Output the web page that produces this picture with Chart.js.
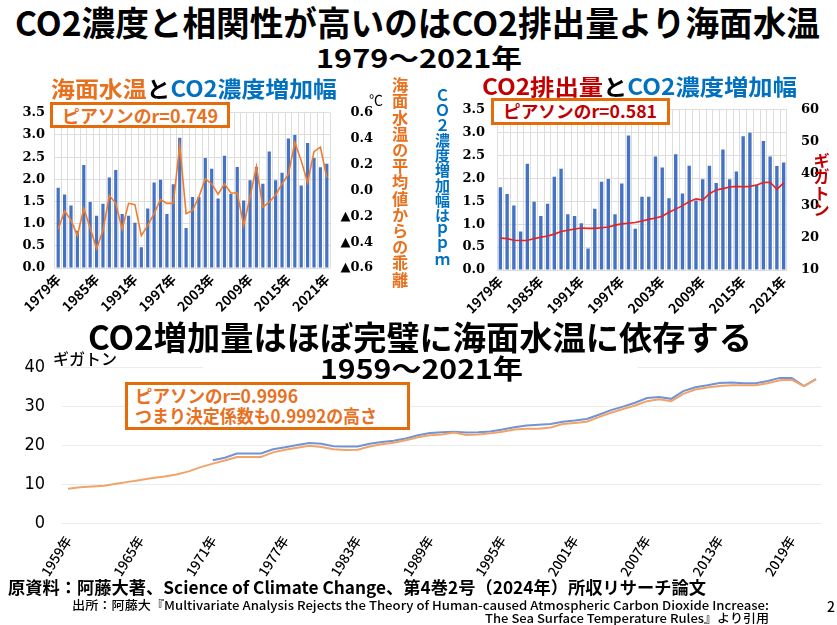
<!DOCTYPE html>
<html lang="ja">
<head>
<meta charset="utf-8">
<script src="https://cdn.jsdelivr.net/npm/chart.js@4.4.1/dist/chart.umd.min.js"></script>
<style>
  html, body { margin: 0; padding: 0; background: #fff; }
  body { width: 837px; height: 625px; position: relative; overflow: hidden; font-family: "Noto Sans CJK JP", sans-serif; }
  canvas { position: absolute; }
  .t { position: absolute; white-space: nowrap; line-height: 1; font-weight: 700; transform-origin: 0 0; }
  .v { position: absolute; writing-mode: vertical-rl; text-orientation: upright; line-height: 1; font-weight: 700; white-space: nowrap; }
  .box { position: absolute; border: 3px solid #E46C0A; background: #fff; box-sizing: border-box; }
  .org { color: #E8711F; }
  .blu { color: #0070C0; }
  .red { color: #C00000; }
</style>
</head>
<body>
<canvas id="chartSst" width="400" height="230" style="left:0;top:95px;width:400px;height:230px"></canvas>
<canvas id="chartEmit" width="417" height="235" style="left:420px;top:90px;width:417px;height:235px"></canvas>
<canvas id="chartLong" width="837" height="245" style="left:0;top:340px;width:837px;height:245px"></canvas>

<div class="t" data-w="805" style="left:15px;top:5px;font-size:34px;">CO2濃度と相関性が高いのはCO2排出量より海面水温</div>
<div class="t" data-w="206" style="left:316px;top:44px;font-size:26px;">1979～2021年</div>

<div class="t" data-w="286" style="left:51px;top:76px;font-size:22px;"><span class="org">海面水温</span>と<span class="blu">CO2濃度増加幅</span></div>
<div class="t" data-w="315" style="left:482px;top:74px;font-size:22px;"><span class="red">CO2排出量</span>と<span class="blu">CO2濃度増加幅</span></div>

<div class="box" style="left:50px;top:102px;width:180px;height:26px;"></div>
<div class="t org" data-w="156" style="left:62px;top:106px;font-size:18px;">ピアソンのr=0.749</div>
<div class="box" style="left:491px;top:98px;width:179px;height:27px;"></div>
<div class="t red" data-w="154" style="left:503px;top:102px;font-size:17px;">ピアソンのr=0.581</div>

<div class="t" style="left:369px;top:92px;font-size:14px;font-weight:400;">℃</div>
<div class="v org" style="left:392px;top:77px;font-size:16.2px;">海面水温の平均値からの乖離</div>
<div class="v blu" style="left:435px;top:88px;font-size:15px;">ＣＯ２濃度増加幅はｐｐｍ</div>
<div class="v red" style="left:813px;top:152px;font-size:16.5px;">ギガトン</div>

<div class="t" data-w="664" style="left:88px;top:320px;font-size:33px;">CO2増加量はほぼ完璧に海面水温に依存する</div>
<div style="position:absolute;left:203px;top:354px;width:435px;height:36px;background:#fff;"></div>
<div class="t" data-w="203" style="left:320px;top:354px;font-size:27px;">1959～2021年</div>
<div class="t" data-w="64" style="left:53px;top:350px;font-size:16px;font-weight:500;">ギガトン</div>

<div class="box" style="left:125px;top:382px;width:285px;height:48px;"></div>
<div class="t org" data-w="163" style="left:135px;top:386px;font-size:18px;">ピアソンのr=0.9996</div>
<div class="t org" data-w="242" style="left:135px;top:406px;font-size:18px;">つまり決定係数も0.9992の高さ</div>

<div class="t" data-w="698" style="left:8px;top:578px;font-size:17px;">原資料：阿藤大著、Science of Climate Change、第4巻2号（2024年）所収リサーチ論文</div>
<div class="t" data-w="697" style="left:72px;top:599px;font-size:12px;font-weight:500;">出所：阿藤大『Multivariate Analysis Rejects the Theory of Human-caused Atmospheric Carbon Dioxide Increase:</div>
<div class="t" data-w="284" style="left:485px;top:612px;font-size:12px;font-weight:500;">The Sea Surface Temperature Rules』より引用</div>
<div class="t" style="left:827px;top:599px;font-size:14px;font-weight:500;">2</div>

<script>
// 1979-2021 (top charts)
const yearsTop = [];
for (let y = 1979; y <= 2021; y++) yearsTop.push(y + "年");

// CO2 concentration growth, ppm per year
const co2Growth = [
  1.81, 1.66, 1.41, 0.84, 2.32, 1.49, 1.18, 1.45, 2.04, 2.21,
  1.22, 1.18, 1.02, 0.47, 1.34, 1.93, 1.99, 1.22, 1.89, 2.94,
  0.90, 1.60, 1.60, 2.48, 2.24, 1.57, 2.53, 1.67, 2.28, 1.52,
  1.98, 2.28, 1.90, 2.63, 1.98, 2.15, 2.92, 3.00, 1.86, 2.82,
  2.48, 2.27, 2.35
];

// sea surface temperature anomaly, degC
const sstAnomaly = [
  -0.30, -0.16, -0.23, -0.35, -0.14, -0.29, -0.45, -0.31, -0.04, -0.10,
  -0.30, -0.10, -0.11, -0.35, -0.27, -0.18, -0.07, -0.10, -0.10, 0.35,
  -0.18, -0.155, -0.05, 0.09, 0.05, -0.03, 0.05, -0.02, -0.02, -0.27,
  -0.05, 0.185, -0.13, -0.09, -0.035, 0.05, 0.125, 0.37, 0.23, 0.06,
  0.30, 0.335, 0.10
];

// CO2 emissions, gigatons
const co2Emission = [
  20.0, 19.8, 19.3, 19.2, 19.2, 19.8, 20.2, 20.6, 21.2, 22.0,
  22.4, 22.8, 23.1, 23.0, 23.0, 23.2, 23.4, 24.0, 24.4, 24.6,
  24.8, 25.3, 25.8, 26.2, 26.8, 28.0, 29.0, 30.1, 31.3, 32.2,
  31.8, 33.8, 35.0, 35.4, 35.9, 36.1, 36.0, 36.1, 36.5, 37.3,
  37.4, 35.2, 37.2
];

// 1959-2021 (bottom chart)
const yearsLong = [];
for (let y = 1959; y <= 2021; y++) yearsLong.push(y + "年");

const longOrange = [
  8.8, 9.2, 9.4, 9.6, 10.1, 10.6, 11.1, 11.6, 12.0, 12.5,
  13.3, 14.4, 15.3, 16.1, 17.0, 17.0, 17.0, 18.2, 18.9, 19.4,
  19.9, 19.6, 19.0, 18.8, 18.9, 19.7, 20.3, 20.7, 21.3, 22.1,
  22.6, 22.8, 23.3, 22.7, 22.8, 23.1, 23.5, 24.1, 24.3, 24.3,
  24.6, 25.5, 25.8, 26.1, 27.3, 28.4, 29.4, 30.3, 31.4, 31.9,
  31.4, 33.3, 34.4, 34.9, 35.3, 35.5, 35.5, 35.5, 36.0, 36.8,
  36.9, 35.3, 37.1
];

const longBlue = [
  null, null, null, null, null, null, null, null, null, null,
  null, null, 16.2, 16.8, 17.9, 17.9, 17.9, 19.0, 19.5, 20.1,
  20.6, 20.4, 19.8, 19.7, 19.7, 20.4, 20.9, 21.2, 21.8, 22.6,
  23.2, 23.4, 23.5, 23.3, 23.4, 23.6, 24.1, 24.7, 25.1, 25.3,
  25.5, 26.1, 26.4, 26.8, 27.9, 29.1, 30.0, 31.0, 32.2, 32.5,
  32.0, 34.0, 35.0, 35.5, 36.1, 36.2, 36.0, 36.0, 36.6, 37.4,
  37.4, 35.3, 37.1
];

Chart.defaults.font.family = '"Noto Sans CJK JP", sans-serif';
Chart.defaults.color = "#000";
Chart.defaults.animation = false;

const numFont = { family: '"DejaVu Serif", serif', size: 13, weight: "bold" };
const yearFont = { family: '"Noto Sans CJK JP", sans-serif', size: 13.5, weight: "bold" };
const gridColor = "#dddddd";

function everySixth(val, i) {
  return i % 6 === 0 ? this.getLabelForValue(val) : "";
}

function growthAxis(width, pad) {
  return {
    position: "left",
    min: 0, max: 3.5,
    ticks: { stepSize: 0.5, font: numFont, padding: pad, callback: (v) => v.toFixed(1) },
    grid: { color: gridColor, drawTicks: false },
    border: { display: false },
    afterFit: (s) => { s.width = width; }
  };
}

function yearAxis(height) {
  return {
    ticks: { autoSkip: false, maxRotation: 45, minRotation: 45, font: yearFont, padding: 3, callback: everySixth },
    grid: { color: gridColor, drawTicks: false },
    border: { display: false },
    afterFit: (s) => { s.height = height; }
  };
}

new Chart(document.getElementById("chartSst"), {
  type: "bar",
  data: {
    labels: yearsTop,
    datasets: [
      { type: "line", data: sstAnomaly, yAxisID: "y1", borderColor: "#ED7D31", borderWidth: 1.6, pointRadius: 0, tension: 0, order: 0 },
      { data: co2Growth, yAxisID: "y", backgroundColor: "#4472C4", barPercentage: 0.5, categoryPercentage: 1, order: 1 }
    ]
  },
  options: {
    responsive: false,
    layout: { padding: { top: 13, right: 27, left: 0, bottom: 0 } },
    plugins: { legend: { display: false }, tooltip: { enabled: false } },
    scales: {
      x: yearAxis(57),
      y: growthAxis(55, 10),
      y1: {
        position: "right",
        min: -0.6, max: 0.6,
        ticks: {
          stepSize: 0.2, font: numFont, padding: 7, crossAlign: "far",
          callback: (v) => Math.abs(v) < 1e-9 ? "0.0" : (v < 0 ? "▲" + Math.abs(v).toFixed(1) : v.toFixed(1))
        },
        grid: { display: false },
        border: { display: false },
        afterFit: (s) => { s.width = 43; }
      }
    }
  }
});

new Chart(document.getElementById("chartEmit"), {
  type: "bar",
  data: {
    labels: yearsTop,
    datasets: [
      { type: "line", data: co2Emission, yAxisID: "y1", borderColor: "#E8201E", borderWidth: 1.6, pointRadius: 0, tension: 0, order: 0 },
      { data: co2Growth, yAxisID: "y", backgroundColor: "#4472C4", barPercentage: 0.5, categoryPercentage: 1, order: 1 }
    ]
  },
  options: {
    responsive: false,
    layout: { padding: { top: 12, right: 0, left: 0, bottom: 0 } },
    plugins: { legend: { display: false }, tooltip: { enabled: false } },
    scales: {
      x: yearAxis(55),
      y: growthAxis(77, 12),
      y1: {
        position: "right",
        min: 10, max: 60,
        ticks: { stepSize: 10, font: numFont, padding: 6 },
        grid: { display: false },
        border: { display: false },
        afterFit: (s) => { s.width = 50; }
      }
    }
  }
});

new Chart(document.getElementById("chartLong"), {
  type: "line",
  data: {
    labels: yearsLong,
    datasets: [
      { data: longOrange, borderColor: "#F2A36A", borderWidth: 2, pointRadius: 0, tension: 0, order: 0 },
      { data: longBlue, borderColor: "#7294D4", borderWidth: 2, pointRadius: 0, tension: 0, order: 1 }
    ]
  },
  options: {
    responsive: false,
    layout: { padding: { top: 21, right: 15, left: 0, bottom: 0 } },
    plugins: { legend: { display: false }, tooltip: { enabled: false } },
    scales: {
      x: {
        offset: true,
        ticks: {
          autoSkip: false, maxRotation: 58, minRotation: 58, padding: 2,
          font: { family: '"Noto Sans CJK JP", sans-serif', size: 13.5, weight: 500 },
          callback: everySixth
        },
        grid: { display: false },
        border: { display: false },
        afterFit: (s) => { s.height = 62; }
      },
      y: {
        min: 0, max: 40,
        ticks: {
          stepSize: 5, padding: 17,
          font: { family: '"Liberation Sans Narrow", "DejaVu Sans Condensed", "Noto Sans", sans-serif', size: 18 },
          callback: (v) => v % 10 === 0 ? String(v) : ""
        },
        grid: { color: "#ececec", drawTicks: false },
        border: { display: false },
        afterFit: (s) => { s.width = 62; }
      }
    }
  }
});

function fitAll() {
  document.querySelectorAll("[data-w]").forEach((el) => {
    el.style.transform = "none";
    const w = el.getBoundingClientRect().width;
    if (w > 0) el.style.transform = "scaleX(" + (el.dataset.w / w) + ")";
  });
}
fitAll();
if (document.fonts) document.fonts.ready.then(fitAll);
</script>
</body>
</html>
